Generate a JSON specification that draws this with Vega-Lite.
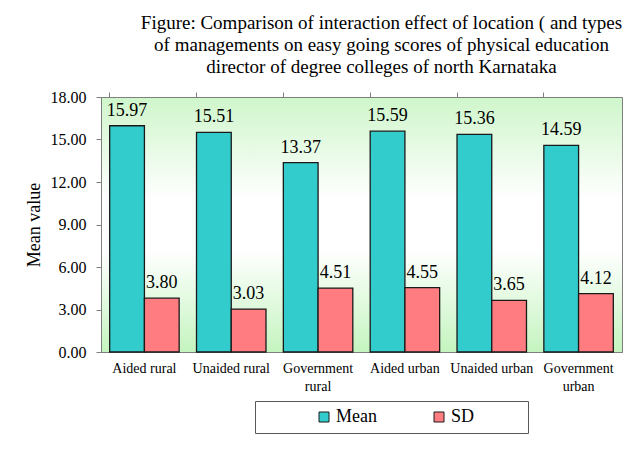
{
  "$schema": "https://vega.github.io/schema/vega-lite/v6.json",
  "autosize": {"type": "none"},
  "width": 521,
  "height": 255,
  "padding": {"left": 101, "top": 97, "right": 10, "bottom": 97},
  "background": "white",
  "config": {"font": "Liberation Serif"},
  "title": {
    "text": ["Figure: Comparison of interaction effect of location ( and types", "of managements on easy going scores of physical education", "director of degree colleges of north Karnataka"],
    "font": "Liberation Serif",
    "fontSize": 19,
    "fontWeight": "normal",
    "color": "black",
    "anchor": "middle",
    "dx": 20,
    "offset": 12,
    "lineHeight": 22
  },
  "view": {
    "stroke": "#7f7f7f",
    "strokeWidth": 1,
    "fill": {
      "gradient": "linear", "x1": 0, "y1": 0, "x2": 0, "y2": 1,
      "stops": [
        {"offset": 0, "color": "#cff6cb"},
        {"offset": 0.4, "color": "#ffffff"},
        {"offset": 0.6, "color": "#ffffff"},
        {"offset": 1, "color": "#c4f4bf"}
      ]
    }
  },
  "data": {
    "values": [
      {"category": "Aided rural", "series": "Mean", "value": 15.97},
      {"category": "Aided rural", "series": "SD", "value": 3.80},
      {"category": "Unaided rural", "series": "Mean", "value": 15.51},
      {"category": "Unaided rural", "series": "SD", "value": 3.03},
      {"category": "Government rural", "series": "Mean", "value": 13.37},
      {"category": "Government rural", "series": "SD", "value": 4.51},
      {"category": "Aided urban", "series": "Mean", "value": 15.59},
      {"category": "Aided urban", "series": "SD", "value": 4.55},
      {"category": "Unaided urban", "series": "Mean", "value": 15.36},
      {"category": "Unaided urban", "series": "SD", "value": 3.65},
      {"category": "Government urban", "series": "Mean", "value": 14.59},
      {"category": "Government urban", "series": "SD", "value": 4.12}
    ]
  },
  "encoding": {
    "x": {
      "field": "category", "type": "nominal", "sort": null,
      "scale": {"paddingInner": 0.2, "paddingOuter": 0.1}
    },
    "xOffset": {"field": "series", "type": "nominal", "sort": ["Mean", "SD"], "scale": {"paddingInner": 0, "paddingOuter": 0}},
    "y": {
      "field": "value", "type": "quantitative",
      "scale": {"domain": [0, 18], "nice": false}
    }
  },
  "layer": [
    {
      "mark": {"type": "bar", "stroke": "#1a1a1a", "strokeWidth": 1.3},
      "encoding": {
        "x": {
          "field": "category", "type": "nominal", "sort": null,
          "scale": {"paddingInner": 0.2, "paddingOuter": 0.1},
          "axis": {
            "title": null, "labelAngle": 0, "ticks": false,
            "domainColor": "#7f7f7f",
            "labelFont": "Liberation Serif", "labelFontSize": 14, "labelColor": "black",
            "labelPadding": 9, "labelLineHeight": 18,
            "labelExpr": "indexof(datum.value, 'Government') == 0 ? split(datum.value, ' ') : datum.value"
          }
        },
        "y": {
          "field": "value", "type": "quantitative",
          "scale": {"domain": [0, 18], "nice": false},
          "axis": {
            "title": "Mean value", "values": [0, 3, 6, 9, 12, 15, 18], "format": ".2f",
            "grid": false, "domainColor": "#7f7f7f", "tickColor": "#7f7f7f", "tickSize": 5,
            "labelFont": "Liberation Serif", "labelFontSize": 16, "labelColor": "black", "labelPadding": 10,
            "titleFont": "Liberation Serif", "titleFontSize": 18, "titleFontWeight": "normal", "titleColor": "black", "titlePadding": 7
          }
        },
        "color": {
          "field": "series", "type": "nominal",
          "scale": {"domain": ["Mean", "SD"], "range": ["#33cccc", "#ff7c80"]},
          "legend": {
            "title": "\u00a0", "titleOrient": "right", "titlePadding": 47, "titleFontSize": 18,
            "orient": "none", "legendX": 154, "legendY": 304, "direction": "horizontal",
            "padding": 7, "strokeColor": "#595959", "fillColor": "white",
            "symbolType": "square", "symbolSize": 100, "symbolStrokeColor": "#1a1a1a", "symbolStrokeWidth": 1,
            "symbolOffset": 53, "columnPadding": 0, "gridAlign": "all",
            "labelFont": "Liberation Serif", "labelFontSize": 18, "labelColor": "black", "labelOffset": 3
          }
        }
      }
    },
    {
      "mark": {"type": "text", "baseline": "bottom", "dy": -6, "font": "Liberation Serif", "fontSize": 18, "color": "black"},
      "encoding": {
        "x": {
          "field": "category", "type": "nominal", "sort": null,
          "scale": {"paddingInner": 0.2, "paddingOuter": 0.1},
          "axis": {
            "title": null, "labels": false, "domain": false, "ticks": true, "bandPosition": 0,
            "tickColor": "#7f7f7f", "tickSize": 5
          }
        },
        "text": {"field": "value", "type": "quantitative", "format": ".2f"}
      }
    }
  ],
  "resolve": {"axis": {"x": "independent"}}
}
